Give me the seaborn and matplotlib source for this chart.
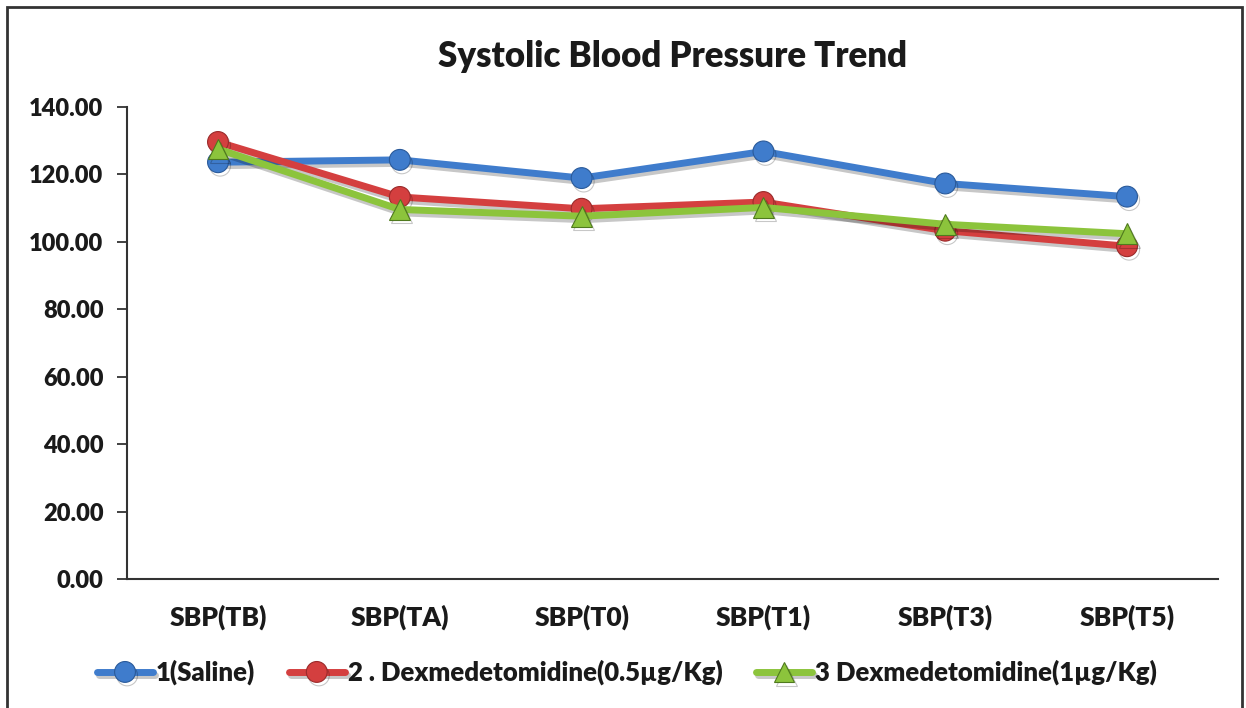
import numpy as np
import pandas as pd
import seaborn as sns
import matplotlib.pyplot as plt
import matplotlib.patheffects as pe
from matplotlib.patches import Rectangle

# chart data
times = ['SBP(TB)', 'SBP(TA)', 'SBP(T0)', 'SBP(T1)', 'SBP(T3)', 'SBP(T5)']
groups = ['1(Saline)', '2 . Dexmedetomidine(0.5µg/Kg)', '3 Dexmedetomidine(1µg/Kg)']
saline = [123.6, 124.3, 118.9, 126.8, 117.3, 113.4]
dex_05 = [129.6, 113.3, 109.8, 111.8, 103.3, 98.7]
dex_1 = [127.5, 109.6, 107.6, 110.2, 105.2, 102.4]
y_ticks = [0, 20, 40, 60, 80, 100, 120, 140]

df = pd.DataFrame({
    'time': times * 3,
    'group': np.repeat(groups, len(times)),
    'sbp': saline + dex_05 + dex_1,
})

sns.set_style('white')
plt.rcParams['font.family'] = ['Lato', 'DejaVu Sans']
plt.rcParams['font.weight'] = 'heavy'
plt.rcParams['text.color'] = '#1a1a1a'
plt.rcParams['xtick.color'] = '#1a1a1a'
plt.rcParams['ytick.color'] = '#1a1a1a'

palette = {groups[0]: '#3f7ccc', groups[1]: '#d43f3f', groups[2]: '#8cc43c'}
edges = {groups[0]: '#2a5a9a', groups[1]: '#9a2a2a', groups[2]: '#4f7a1e'}
markers = {groups[0]: 'o', groups[1]: 'o', groups[2]: '^'}

fig = plt.figure(figsize=(12.46, 7.08), dpi=100)
ax = fig.add_axes([0.102, 0.182, 0.8755, 0.667])

sns.lineplot(data=df, x='time', y='sbp', hue='group', style='group',
             palette=palette, markers=markers, dashes=False, sort=False,
             linewidth=5, markersize=15, markeredgewidth=0.8, ax=ax)

for ln in ax.get_lines():
    col = ln.get_color()
    for g in groups:
        if palette[g] == col:
            ln.set_markeredgecolor(edges[g])
    ln.set_path_effects([pe.SimpleLineShadow(offset=(1.5, -2.5), alpha=0.22), pe.Normal()])

# axes styling, Excel-like
ax.set_xlim(-0.5, len(times) - 0.5)
ax.set_ylim(0, 140)
ax.set_yticks(y_ticks)
ax.set_yticklabels([f'{v:.2f}' for v in y_ticks])
ax.set_xticks(range(len(times)))
ax.set_xticklabels(times)
ax.set_xticks(np.arange(-0.5, len(times)), minor=True)
ax.tick_params(axis='x', which='major', length=0, pad=18, labelsize=19)
ax.tick_params(axis='x', which='minor', length=7, width=1.3, color='#333333', direction='out')
ax.tick_params(axis='y', which='major', length=7, width=1.3, color='#333333',
               direction='out', left=True, labelsize=17, pad=10)
for s in ['top', 'right']:
    ax.spines[s].set_visible(False)
for s in ['left', 'bottom']:
    ax.spines[s].set_color('#333333')
    ax.spines[s].set_linewidth(1.5)
ax.set_xlabel('')
ax.set_ylabel('')

ax.set_title('Systolic Blood Pressure Trend', fontsize=25, fontweight='heavy',
             pad=0, y=1.085)

handles, labels = ax.get_legend_handles_labels()
ax.legend(handles, labels, loc='center', bbox_to_anchor=(0.503, 0.05),
          bbox_transform=fig.transFigure, ncol=3, frameon=False,
          fontsize=18.5, handlelength=2.2, columnspacing=1.3, handletextpad=0.1)

fig.add_artist(Rectangle((0.006, -0.05), 0.991, 1.04, transform=fig.transFigure,
                         fill=False, edgecolor='#333333', linewidth=2))

fig.savefig('out.png', dpi=100)
